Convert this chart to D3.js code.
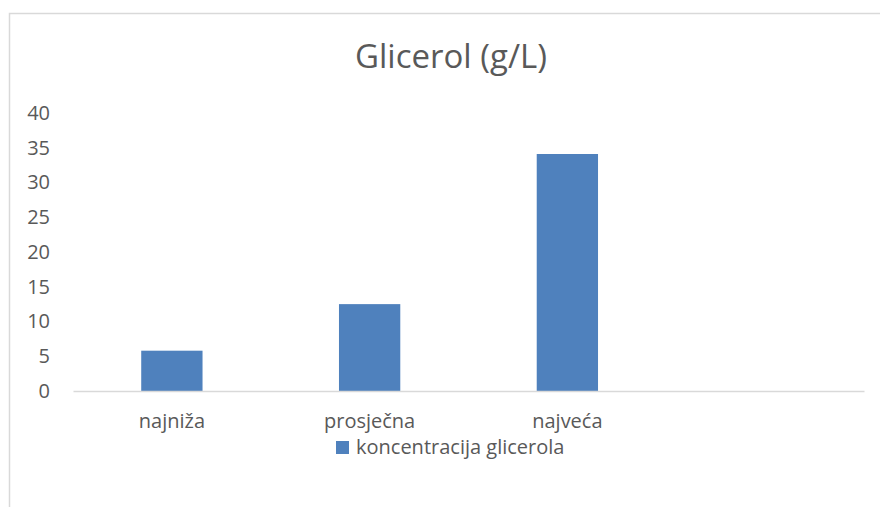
<!DOCTYPE html>
<html><head><meta charset="utf-8">
<script src="https://cdn.jsdelivr.net/npm/d3@7"></script>
<style>body{margin:0;background:#fff}svg{display:block}text{font-family:"Open Sans",sans-serif;fill:#595959}</style>
</head><body><svg id="c" width="880" height="507"></svg>
<script>
const categories = ["najniža", "prosječna", "najveća", ""];
const values = [5.8, 12.5, 34.1, null];
const yTicks = [0, 5, 10, 15, 20, 25, 30, 35, 40];
const seriesName = "koncentracija glicerola";
const title = "Glicerol (g/L)";

const svg = d3.select("#c");
svg.append("rect").attr("x", 9.5).attr("y", 13.5).attr("width", 900).attr("height", 600)
  .attr("fill", "#fff").attr("stroke", "#d9d9d9").attr("stroke-width", 1.5);

const x = d3.scaleBand().domain(categories).range([73, 864]).paddingInner(0.69).paddingOuter(0.345);
const y = d3.scaleLinear().domain([0, 40]).range([391, 113]);

svg.append("text").attr("x", 451).attr("y", 68).attr("text-anchor", "middle")
  .style("font-size", "33px").text(title);

const yg = svg.append("g").attr("transform", "translate(50,0)")
  .call(d3.axisLeft(y).tickValues(yTicks).tickSize(0).tickPadding(0));
yg.select(".domain").remove();
yg.selectAll("text").style("font-size", "20px").attr("fill", "#595959").style("font-family", "'Open Sans',sans-serif");

svg.selectAll(".bar").data(categories.map((c, i) => ({c, v: values[i]})).filter(d => d.v != null))
  .enter().append("rect").attr("class", "bar")
  .attr("x", d => x(d.c)).attr("width", x.bandwidth())
  .attr("y", d => y(d.v)).attr("height", d => y(0) - y(d.v))
  .attr("fill", "#4f81bd");

const xg = svg.append("g").attr("transform", "translate(0,391)")
  .call(d3.axisBottom(x).tickSize(0).tickPadding(0));
xg.select(".domain").attr("stroke", "#d9d9d9").attr("stroke-width", 1.5);
xg.selectAll("text").attr("dy", null).attr("y", 37).style("font-size", "20px").attr("fill", "#595959").style("font-family", "'Open Sans',sans-serif");

const lg = svg.append("g").attr("transform", "translate(336,441)");
lg.append("rect").attr("width", 13).attr("height", 13).attr("fill", "#4f81bd");
lg.append("text").attr("x", 20).attr("y", 13).style("font-size", "20px").text(seriesName);
</script></body></html>
